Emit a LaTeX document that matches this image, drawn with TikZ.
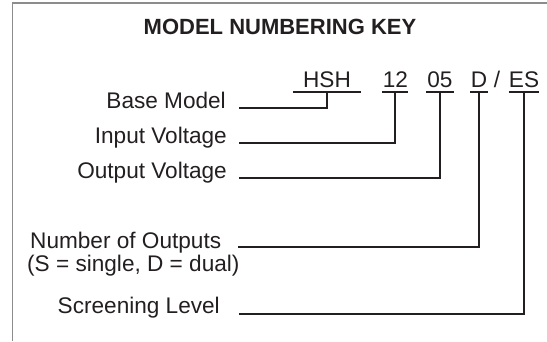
\documentclass[tikz,border=0pt]{standalone}
\usepackage{fontspec}
\setmainfont{Liberation Sans}
\usetikzlibrary{positioning}
\definecolor{ink}{HTML}{231F20}
\definecolor{framegray}{HTML}{8C8C8C}
\tikzstyle{keyline} = [draw=ink, line width=1.8pt]
\tikzstyle{keytext} = [inner sep=0pt, text=ink, font=\fontsize{22.6}{26}\selectfont]
\tikzstyle{code} = [keytext, anchor=base, text depth=5pt]

\begin{document}
\begin{tikzpicture}[x=1pt, y=-1pt]
\useasboundingbox (0,0) rectangle (547,341);

% Draw frame (open at right and bottom)
\draw[framegray, line width=1.2pt] (12.5,341) -- (12.5,3) -- (547,3);

% Title
\node[keytext, anchor=base, font=\fontsize{22}{26}\selectfont\bfseries] (title) at (280,34) {MODEL NUMBERING KEY};

% Put in the parts of the model number
\node[code, minimum width=68pt] (hsh) at (327,87) {HSH};
\node[code, minimum width=26pt, text width=26pt, align=right] (inv) at (395,87) {12};
\node[code, minimum width=28pt] (outv) at (440,87) {05};
\node[code, minimum width=18pt] (dual) at (479,87) {D};
\node[code] (slash) at (497,87) {/};
\node[code, minimum width=28pt] (scr) at (524,87) {ES};

% Underline the parts
\foreach \n in {hsh,inv,outv,dual,scr}
    \draw[keyline] (\n.south west) -- (\n.south east);

% Descriptions
\node[keytext, anchor=base east] (base) at (226,108) {Base Model};
\node[keytext, anchor=base east] (input) at (227,143) {Input Voltage};
\node[keytext, anchor=base east] (output) at (227,178) {Output Voltage};
\node[keytext, anchor=base west] (number) at (30,248) {Number of Outputs};
\node[keytext, anchor=base west] (numnote) at (27,271) {(S = single, D = dual)};
\node[keytext, anchor=base east] (screen) at (220,313) {Screening Level};

% Connect each part to its description
\draw[keyline] (hsh.south) |- ([xshift=13pt]base.base east);
\draw[keyline] (inv.south) |- ([xshift=12pt]input.base east);
\draw[keyline] (outv.south) |- ([xshift=12pt]output.base east);
\draw[keyline] (dual.south) |- ([xshift=17pt, yshift=1pt]number.base east);
\draw[keyline] (scr.south) |- ([xshift=19pt, yshift=-1pt]screen.base east);
\end{tikzpicture}
\end{document}
